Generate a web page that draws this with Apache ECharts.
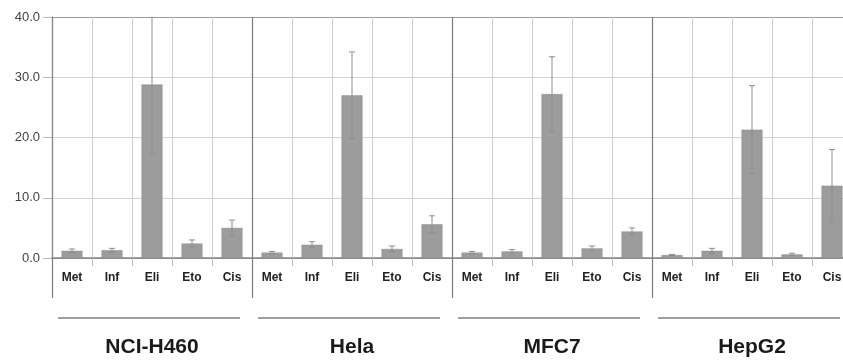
<!DOCTYPE html>
<html>
<head>
<meta charset="utf-8">
<script src="https://cdn.jsdelivr.net/npm/echarts@6/dist/echarts.min.js"></script>
<style>
  html, body { margin: 0; padding: 0; background: #fff; overflow: hidden; }
  #chart { width: 852px; height: 363px; }
</style>
</head>
<body>
<div id="chart"></div>
<script>
// Drugs tested in each cell line, and the cell lines themselves
const drugs = ['Met', 'Inf', 'Eli', 'Eto', 'Cis'];
const cellLines = ['NCI-H460', 'Hela', 'MFC7', 'HepG2'];

// Mean values per cell line (same order as drugs)
const meanNCI = [1.2, 1.3, 28.8, 2.4, 5.0];
const meanHela = [0.9, 2.2, 27.0, 1.5, 5.6];
const meanMFC7 = [0.9, 1.1, 27.2, 1.6, 4.4];
const meanHepG2 = [0.5, 1.2, 21.3, 0.6, 12.0];

// Standard deviations per cell line
const sdNCI = [0.3, 0.3, 11.5, 0.6, 1.3];
const sdHela = [0.2, 0.5, 7.2, 0.5, 1.4];
const sdMFC7 = [0.2, 0.3, 6.2, 0.4, 0.6];
const sdHepG2 = [0.1, 0.4, 7.3, 0.2, 6.0];

// Y axis ticks
const yTicks = [0, 10, 20, 30, 40];

const means = [meanNCI, meanHela, meanMFC7, meanHepG2];
const sds = [sdNCI, sdHela, sdMFC7, sdHepG2];

const categories = [];
const barValues = [];
const errorData = [];
means.forEach((group, g) => {
  group.forEach((v, d) => {
    const idx = categories.length;
    categories.push(drugs[d]);
    barValues.push(v);
    errorData.push([idx, v - sds[g][d], v + sds[g][d]]);
  });
});

const chart = echarts.init(document.getElementById('chart'), null, { renderer: 'canvas' });

chart.setOption({
  animation: false,
  backgroundColor: '#ffffff',
  grid: { left: 52, right: 0, top: 17, bottom: 105, containLabel: false },
  xAxis: [
    {
      type: 'category',
      data: categories,
      boundaryGap: true,
      axisLine: { show: true, lineStyle: { color: '#8a8a8a', width: 1.5 } },
      axisTick: { show: true, interval: 0, length: 8, lineStyle: { color: '#bdbdbd' } },
      splitLine: { show: true, interval: 0, lineStyle: { color: '#cfcfcf', width: 1 } },
      axisLabel: {
        interval: 0,
        margin: 14,
        color: '#222',
        fontFamily: 'Liberation Sans, Arial, sans-serif',
        fontWeight: 'bold',
        fontSize: 12
      }
    },
    {
      type: 'category',
      data: cellLines,
      position: 'bottom',
      boundaryGap: true,
      axisLine: { show: false },
      axisTick: { show: true, interval: 0, length: 40, lineStyle: { color: '#7a7a7a', width: 1.2 } },
      splitLine: { show: true, interval: 0, lineStyle: { color: '#7a7a7a', width: 1.2 } },
      axisLabel: {
        interval: 0,
        margin: 79,
        color: '#1a1a1a',
        fontFamily: 'Liberation Sans, Arial, sans-serif',
        fontWeight: 'bold',
        fontSize: 21
      }
    }
  ],
  yAxis: {
    type: 'value',
    min: yTicks[0],
    max: yTicks[yTicks.length - 1],
    interval: 10,
    axisLine: { show: true, lineStyle: { color: '#8a8a8a', width: 1.2 } },
    axisTick: { show: true, length: 9, lineStyle: { color: '#b5b5b5' } },
    splitLine: {
      show: true,
      lineStyle: { color: ['#8a8a8a', '#d2d2d2', '#d2d2d2', '#d2d2d2', '#999999'], width: 1.2 }
    },
    axisLabel: {
      margin: 12,
      color: '#444',
      fontFamily: 'Liberation Sans, Arial, sans-serif',
      fontSize: 13,
      formatter: v => v.toFixed(1)
    }
  },
  series: [
    {
      type: 'bar',
      xAxisIndex: 0,
      data: barValues,
      barWidth: 21,
      itemStyle: { color: '#9c9c9c', borderColor: '#8e8e8e', borderWidth: 0.5 },
      silent: true,
      z: 3
    },
    {
      // error bars
      type: 'custom',
      xAxisIndex: 0,
      data: errorData,
      clip: true,
      silent: true,
      z: 4,
      renderItem: function (params, api) {
        const x = api.value(0);
        const lo = api.coord([x, api.value(1)]);
        const hi = api.coord([x, api.value(2)]);
        const cap = 3;
        const style = { stroke: '#8d8d8d', lineWidth: 1 };
        return {
          type: 'group',
          children: [
            { type: 'line', shape: { x1: hi[0], y1: hi[1], x2: lo[0], y2: lo[1] }, style },
            { type: 'line', shape: { x1: hi[0] - cap, y1: hi[1], x2: hi[0] + cap, y2: hi[1] }, style },
            { type: 'line', shape: { x1: lo[0] - cap, y1: lo[1], x2: lo[0] + cap, y2: lo[1] }, style }
          ]
        };
      }
    },
    {
      // underline beneath each cell-line group
      type: 'custom',
      xAxisIndex: 1,
      data: cellLines.map((_, i) => [i]),
      clip: false,
      silent: true,
      renderItem: function (params, api) {
        const c = api.coord([api.value(0), 0]);
        const w = api.size([1, 0])[0];
        return {
          type: 'line',
          shape: { x1: c[0] - w / 2 + 6, y1: c[1] + 60, x2: c[0] + w / 2 - 12, y2: c[1] + 60 },
          style: { stroke: '#a0a0a0', lineWidth: 2 }
        };
      }
    }
  ]
});
</script>
</body>
</html>
